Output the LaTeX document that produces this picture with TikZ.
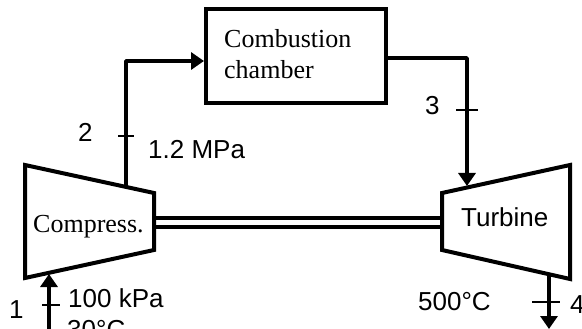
\documentclass[tikz,border=0pt]{standalone}
\usepackage{fontspec}
\setmainfont{Liberation Serif}
\newfontfamily\arialish{Liberation Sans}
\usetikzlibrary{arrows.meta,calc}
\tikzset{
  x=1pt,y=-1pt,
  heavy/.style={line width=4pt,line join=miter},
  flow/.style={line width=3.5pt,line join=round},
  flowarrow/.style={flow,-{Triangle[length=13pt,width=17pt]}},
  shaftline/.style={line width=3.2pt},
  tick/.style={line width=1.5pt},
  sanslabel/.style={anchor=base west,inner sep=0pt,font=\arialish\fontsize{26}{30}\selectfont},
  seriflabel/.style={anchor=base west,inner sep=0pt,font=\fontsize{26}{31}\selectfont},
}
\begin{document}
\begin{tikzpicture}
\useasboundingbox (0,0) rectangle (582,329);
\clip (0,0) rectangle (582,329);
% fixed points
\coordinate (c1) at (25,165);  \coordinate (c2) at (154,193);
\coordinate (c3) at (154,250); \coordinate (c4) at (25,278);
\coordinate (t1) at (442,193); \coordinate (t2) at (570,165);
\coordinate (t3) at (570,279); \coordinate (t4) at (442,250);
\coordinate (cout) at (126,186);
\coordinate (tin)  at (467,186);
\coordinate (in)   at (49,335);
\coordinate (cin)  at (49,274);
\coordinate (tout) at (549,276);
\coordinate (out)  at (549,329);
\coordinate (sc1) at (154,218); \coordinate (st1) at (442,218);
\coordinate (sc2) at (154,227); \coordinate (st2) at (442,227);
% combustion chamber
\node[draw,heavy,anchor=north west,inner sep=0pt,minimum width=180pt,minimum height=94pt] (cc) at (204,7) {};
\node[seriflabel] (cctop) at (224,48) {Combustion};
\node[seriflabel] (ccbot) at (224,79) {chamber};
% machines
\draw[heavy] (c1) -- (c2) -- (c3) -- (c4) -- cycle;
\draw[heavy] (t1) -- (t2) -- (t3) -- (t4) -- cycle;
\node[seriflabel] (compress) at (33,233) {Compress.};
\node[sanslabel] (turbine) at (461,226) {Turbine};
% shaft
\draw[shaftline] (sc1) -- (st1);
\draw[shaftline] (sc2) -- (st2);
% connectors
\draw[flowarrow] (cout) |- (cc.west |- 0,61);
\draw[flowarrow] (cc.east |- 0,58) -| (tin);
\draw[flowarrow] (in) -- (cin);
\draw[flowarrow] (tout) -- (out);
% ticks
\coordinate (tk2a) at (118,136); \coordinate (tk2b) at (134,136);
\coordinate (tk3a) at (456,110); \coordinate (tk3b) at (478,110);
\coordinate (tk1a) at (42,305);  \coordinate (tk1b) at (60,305);
\coordinate (tk4a) at (532,302); \coordinate (tk4b) at (560,302);
\draw[tick] (tk2a) -- (tk2b);
\draw[tick] (tk3a) -- (tk3b);
\draw[tick] (tk1a) -- (tk1b);
\draw[tick] (tk4a) -- (tk4b);
% labels
\node[sanslabel] (l1) at (9,318) {1};
\node[sanslabel] (l2) at (78,142) {2};
\node[sanslabel] (l3) at (425,115) {3};
\node[sanslabel] (l4) at (570,313) {4};
\node[sanslabel] (p2) at (148,158) {1.2 MPa};
\node[sanslabel] (p1) at (68,307) {100 kPa};
\node[sanslabel] (t1lab) at (67,338) {30°C};
\node[sanslabel] (t4lab) at (418,310) {500°C};
\end{tikzpicture}
\end{document}
